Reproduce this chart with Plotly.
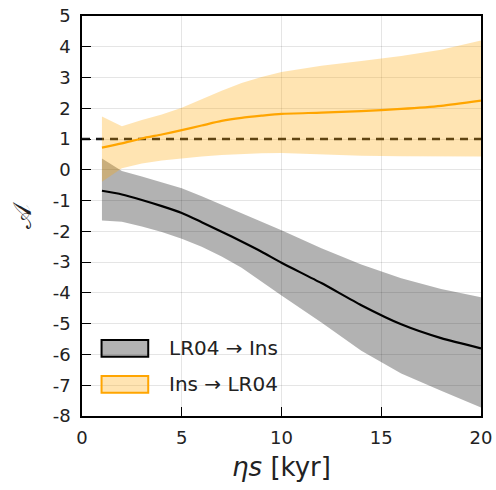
import plotly.graph_objects as go

# ---- data ----
eta_s = [1, 2, 3, 4, 5, 6, 7, 8, 9, 10, 12, 14, 16, 18, 20]

lr04_ins_mean = [-0.68, -0.80, -0.98, -1.18, -1.40, -1.70, -2.01, -2.33, -2.66, -3.02,
                 -3.68, -4.40, -5.02, -5.47, -5.80]
lr04_ins_upper = [0.37, -0.04, -0.22, -0.40, -0.60, -0.86, -1.14, -1.42, -1.69, -1.96,
                  -2.55, -3.08, -3.52, -3.87, -4.14]
lr04_ins_lower = [-1.65, -1.69, -1.84, -2.02, -2.24, -2.50, -2.82, -3.18, -3.62, -4.08,
                  -4.96, -5.88, -6.62, -7.18, -7.72]

ins_lr04_mean = [0.72, 0.86, 1.02, 1.15, 1.29, 1.44, 1.59, 1.69, 1.76, 1.82,
                 1.86, 1.91, 1.98, 2.08, 2.25]
ins_lr04_upper = [1.73, 1.42, 1.62, 1.80, 2.02, 2.30, 2.57, 2.82, 3.02, 3.18,
                  3.38, 3.54, 3.70, 3.90, 4.20]
ins_lr04_lower = [-0.39, 0.05, 0.21, 0.30, 0.37, 0.43, 0.48, 0.52, 0.54, 0.55,
                  0.50, 0.46, 0.44, 0.43, 0.43]

ref_x = [0, 20]
ref_y = [1, 1]

series_names = ["LR04 \u2192 Ins", "Ins \u2192 LR04"]

x_ticks = [0, 5, 10, 15, 20]
x_ticktext = ["0", "5", "10", "15", "20"]
y_ticks = [5, 4, 3, 2, 1, 0, -1, -2, -3, -4, -5, -6, -7, -8]
y_ticktext = ["5", "4", "3", "2", "1", "0", "-1", "-2", "-3", "-4", "-5", "-6", "-7", "-8"]

# ---- styles ----
FONT = "DejaVu Sans"
BLACK = "#000000"
ORANGE = "#FFA500"
GRAY_FILL = "rgba(0,0,0,0.3)"
ORANGE_FILL = "rgba(255,165,0,0.3)"

fig = go.Figure()

# reference dashed line (drawn first, under the bands)
fig.add_trace(go.Scatter(x=ref_x, y=ref_y, mode="lines",
                         line=dict(color="#1a1a1a", width=2.5, dash="8px,6px"),
                         showlegend=False, hoverinfo="skip"))

# band + line: LR04 -> Ins
fig.add_trace(go.Scatter(x=eta_s + eta_s[::-1], y=lr04_ins_upper + lr04_ins_lower[::-1],
                         fill="toself", fillcolor=GRAY_FILL, mode="lines",
                         line=dict(width=0, color=GRAY_FILL),
                         showlegend=False, hoverinfo="skip"))
fig.add_trace(go.Scatter(x=eta_s, y=lr04_ins_mean, mode="lines", name=series_names[0],
                         line=dict(color=BLACK, width=2.2, shape="spline", smoothing=0.6),
                         showlegend=False))

# band + line: Ins -> LR04
fig.add_trace(go.Scatter(x=eta_s + eta_s[::-1], y=ins_lr04_upper + ins_lr04_lower[::-1],
                         fill="toself", fillcolor=ORANGE_FILL, mode="lines",
                         line=dict(width=0, color=ORANGE_FILL),
                         showlegend=False, hoverinfo="skip"))
fig.add_trace(go.Scatter(x=eta_s, y=ins_lr04_mean, mode="lines", name=series_names[1],
                         line=dict(color=ORANGE, width=2.2, shape="spline", smoothing=0.6),
                         showlegend=False))

# ---- manual legend (boxes + text) ----
legend_items = [
    dict(y0=0.148, y1=0.190, fill=GRAY_FILL, line=BLACK, text=series_names[0]),
    dict(y0=0.058, y1=0.100, fill=ORANGE_FILL, line=ORANGE, text=series_names[1]),
]
for it in legend_items:
    fig.add_shape(type="rect", xref="paper", yref="paper",
                  x0=0.049, x1=0.166, y0=it["y0"], y1=it["y1"],
                  fillcolor=it["fill"], line=dict(color=it["line"], width=2))
    fig.add_annotation(xref="paper", yref="paper", x=0.212, y=(it["y0"] + it["y1"]) / 2,
                       text=it["text"], showarrow=False, xanchor="left", yanchor="middle",
                       font=dict(family=FONT, size=20, color="#222222"))

axis_common = dict(
    showline=True, linecolor="#000000", linewidth=1.5, mirror=True,
    ticks="inside", ticklen=9, tickwidth=1, tickcolor="#000000",
    showgrid=True, gridcolor="rgba(0,0,0,0.1)", gridwidth=1,
    zeroline=False, automargin=False,
    tickfont=dict(family=FONT, size=18, color="#222222"),
)

fig.update_xaxes(range=[0, 20], tickvals=x_ticks, ticktext=x_ticktext,
                 ticklabelstandoff=5,
                 title=dict(text="<i>η</i><i>s</i> [kyr]", standoff=10,
                            font=dict(family=FONT, size=26, color="#222222")),
                 **axis_common)
fig.update_yaxes(range=[-8, 5], tickvals=y_ticks, ticktext=y_ticktext,
                 ticklabelstandoff=6,
                 title=dict(text="\U0001D49C", standoff=14,
                            font=dict(family=FONT, size=26, color="#222222")),
                 **axis_common)

fig.update_layout(
    width=496, height=490,
    margin=dict(l=82, r=15, t=16, b=74, pad=0),
    paper_bgcolor="white", plot_bgcolor="white",
    showlegend=False,
    font=dict(family=FONT, color="#222222"),
)

fig.write_html("out.html")
